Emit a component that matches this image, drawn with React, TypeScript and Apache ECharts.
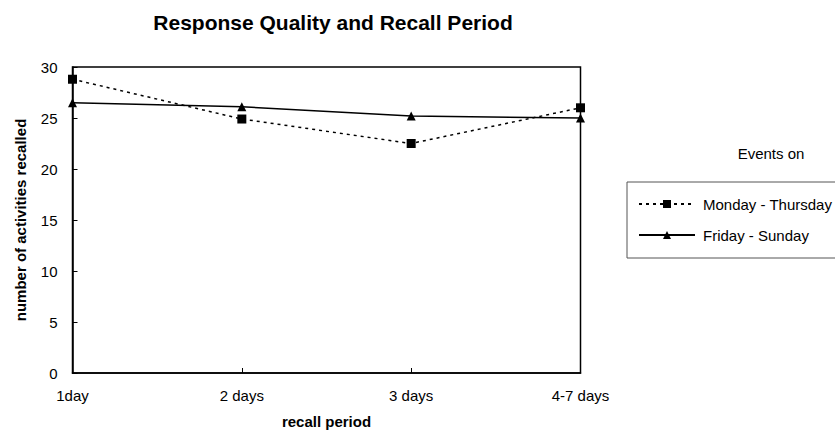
import React, { useEffect, useRef } from "react";
import * as echarts from "echarts";

const categories = ["1day", "2 days", "3 days", "4-7 days"];
const mondayThursday = [28.8, 24.9, 22.5, 26.0];
const fridaySunday = [26.5, 26.1, 25.2, 25.0];
const seriesNames = ["Monday - Thursday", "Friday - Sunday"];
const titleText = "Response Quality and Recall Period";
const xName = "recall period";
const yName = "number of activities recalled";
const legendTitle = "Events on";

const FONT = "'Liberation Sans', Arial, sans-serif";

export default function App() {
  const ref = useRef<HTMLDivElement>(null);
  useEffect(() => {
    document.body.style.margin = "0";
    const chart = echarts.init(ref.current!, null, { renderer: "svg" });
    chart.setOption({
      animation: false,
      backgroundColor: "#fff",
      textStyle: { fontFamily: FONT, color: "#000" },
      title: {
        text: titleText,
        left: 328,
        textAlign: "center",
        top: 7,
        textStyle: { fontFamily: FONT, fontSize: 21, fontWeight: "bold", color: "#000" },
      },
      grid: {
        left: 72.5,
        right: 254.5,
        top: 67,
        bottom: 57,
        show: true,
        borderColor: "#000",
        borderWidth: 1.5,
        backgroundColor: "transparent",
        containLabel: false,
        outerBoundsMode: "none",
      },
      legend: {
        orient: "vertical",
        left: 638,
        top: 196,
        padding: 0,
        itemWidth: 56,
        itemHeight: 10,
        itemGap: 15,
        data: seriesNames,
        textStyle: { fontFamily: FONT, fontSize: 15, color: "#000", lineHeight: 16, padding: [0, 0, 0, 3] },
      },
      graphic: [
        {
          type: "rect",
          shape: { x: 627, y: 182, width: 230, height: 76 },
          style: { fill: "none", stroke: "#555", lineWidth: 1 },
          silent: true,
        },
        {
          type: "text",
          x: 771,
          y: 153,
          style: {
            text: legendTitle,
            fontFamily: FONT,
            fontSize: 15,
            fill: "#000",
            textAlign: "center",
            textVerticalAlign: "middle",
          },
        },
      ],
      xAxis: {
        type: "category",
        data: categories,
        boundaryGap: false,
        name: xName,
        nameLocation: "middle",
        nameGap: 41,
        nameTextStyle: { fontFamily: FONT, fontSize: 15, fontWeight: "bold", color: "#000" },
        axisLine: { show: true, lineStyle: { color: "#000", width: 1.5 } },
        axisTick: { show: true, inside: true, length: 5, lineStyle: { color: "#000", width: 1 } },
        axisLabel: { margin: 15, fontSize: 15, color: "#000", fontFamily: FONT },
        splitLine: { show: false },
      },
      yAxis: {
        type: "value",
        min: 0,
        max: 30,
        interval: 5,
        name: yName,
        nameLocation: "middle",
        nameGap: 45,
        nameTextStyle: { fontFamily: FONT, fontSize: 15, fontWeight: "bold", color: "#000" },
        axisLine: { show: true, lineStyle: { color: "#000", width: 1.5 } },
        axisTick: { show: true, inside: true, length: 5, lineStyle: { color: "#000", width: 1 } },
        axisLabel: { margin: 15, fontSize: 15, color: "#000", fontFamily: FONT },
        splitLine: { show: false },
      },
      series: [
        {
          name: seriesNames[0],
          type: "line",
          data: mondayThursday,
          symbol: "rect",
          symbolSize: 9,
          itemStyle: { color: "#000" },
          lineStyle: { color: "#000", width: 1.5, type: [3, 4] },
        },
        {
          name: seriesNames[1],
          type: "line",
          data: fridaySunday,
          symbol: "triangle",
          symbolSize: 9,
          itemStyle: { color: "#000" },
          lineStyle: { color: "#000", width: 1.5, type: "solid" },
        },
      ],
    });
    return () => chart.dispose();
  }, []);
  return <div ref={ref} style={{ width: 835, height: 430 }} />;
}
